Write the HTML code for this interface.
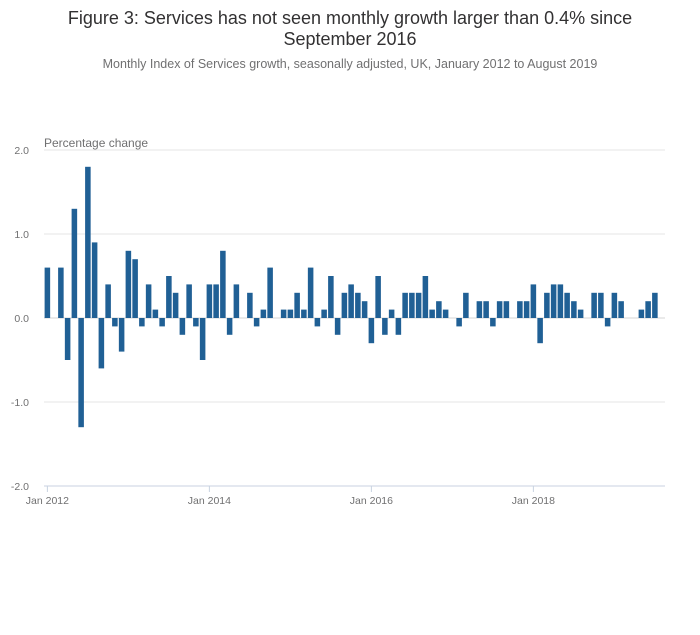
<!DOCTYPE html>
<html><head><meta charset="utf-8"><style>
body{margin:0;background:#fff;font-family:"Liberation Sans",sans-serif;}
#wrap{position:relative;width:700px;height:635px;overflow:hidden;}
.t{position:absolute;left:0;width:700px;text-align:center;color:#323132;}
</style></head><body>
<div id="wrap">
<div class="t" style="top:8px;font-size:18px;line-height:21px;">Figure 3: Services has not seen monthly growth larger than 0.4% since<br>September 2016</div>
<div class="t" style="top:57px;font-size:12.5px;color:#707071;">Monthly Index of Services growth, seasonally adjusted, UK, January 2012 to August 2019</div>
<svg id="svg" width="700" height="635" style="position:absolute;left:0;top:0"></svg>
</div>
<script>
const years = [2012,2013,2014,2015,2016,2017,2018,2019];
const values = [
0.6,0,0.6,-0.5,1.3,-1.3,1.8,0.9,-0.6,0.4,-0.1,-0.4,
0.8,0.7,-0.1,0.4,0.1,-0.1,0.5,0.3,-0.2,0.4,-0.1,-0.5,
0.4,0.4,0.8,-0.2,0.4,0,0.3,-0.1,0.1,0.6,0,0.1,
0.1,0.3,0.1,0.6,-0.1,0.1,0.5,-0.2,0.3,0.4,0.3,0.2,
-0.3,0.5,-0.2,0.1,-0.2,0.3,0.3,0.3,0.5,0.1,0.2,0.1,
0,-0.1,0.3,0,0.2,0.2,-0.1,0.2,0.2,0,0.2,0.2,
0.4,-0.3,0.3,0.4,0.4,0.3,0.2,0.1,0,0.3,0.3,-0.1,
0.3,0.2,0,0,0.1,0.2,0.3,0];
const yTicks = [2,1,0,-1,-2];
const yTickLabels = ["2.0","1.0","0.0","-1.0","-2.0"];
const xTickLabels = ["Jan 2012","Jan 2014","Jan 2016","Jan 2018"];
const xTickIndex = [0,24,48,72];

const svg=document.getElementById('svg');
const NS='http://www.w3.org/2000/svg';
const L=44,R=665,T=150,B=486,N=92;
const step=(R-L)/N;
const x=i=>L+(i+0.5)*step;
const y=v=>T+(2-v)/4*(B-T);
function mk(t,a){const e=document.createElementNS(NS,t);for(const k in a)e.setAttribute(k,a[k]);svg.appendChild(e);return e;}
yTicks.forEach((v,i)=>{
  if(v>-2){const g=mk('line',{x1:L,x2:R,y1:y(v),y2:y(v),stroke:v===0?'#d6d6d6':'#e6e6e6','stroke-width':1});
  
  }
  const t=mk('text',{x:29,y:y(v)+4,'text-anchor':'end','font-size':'10.5',fill:'#707071','font-family':'Liberation Sans, sans-serif'});
  t.textContent=yTickLabels[i];
  
  
});
const ax=mk('line',{x1:L,x2:R,y1:B,y2:B,stroke:'#c8d2e0','stroke-width':1});


const yt=mk('text',{x:44,y:147,'font-size':'12',fill:'#707071','font-family':'Liberation Sans, sans-serif'});
yt.textContent='Percentage change';


values.forEach((v,i)=>{
  const w=step*0.82;
  const b=mk('rect',{x:x(i)-w/2,y:Math.min(y(v),y(0)),width:w,height:Math.abs(y(v)-y(0)),fill:'#206095'});
  
  
});
xTickIndex.forEach((idx,i)=>{
  const tk=mk('line',{x1:x(idx),x2:x(idx),y1:B,y2:B+6,stroke:'#c8d2e0'});
  
  
  const t=mk('text',{x:x(idx),y:B+18,'text-anchor':'middle','font-size':'10.5',fill:'#707071','font-family':'Liberation Sans, sans-serif'});
  t.textContent=xTickLabels[i];
  
  
});
</script>
</body></html>
